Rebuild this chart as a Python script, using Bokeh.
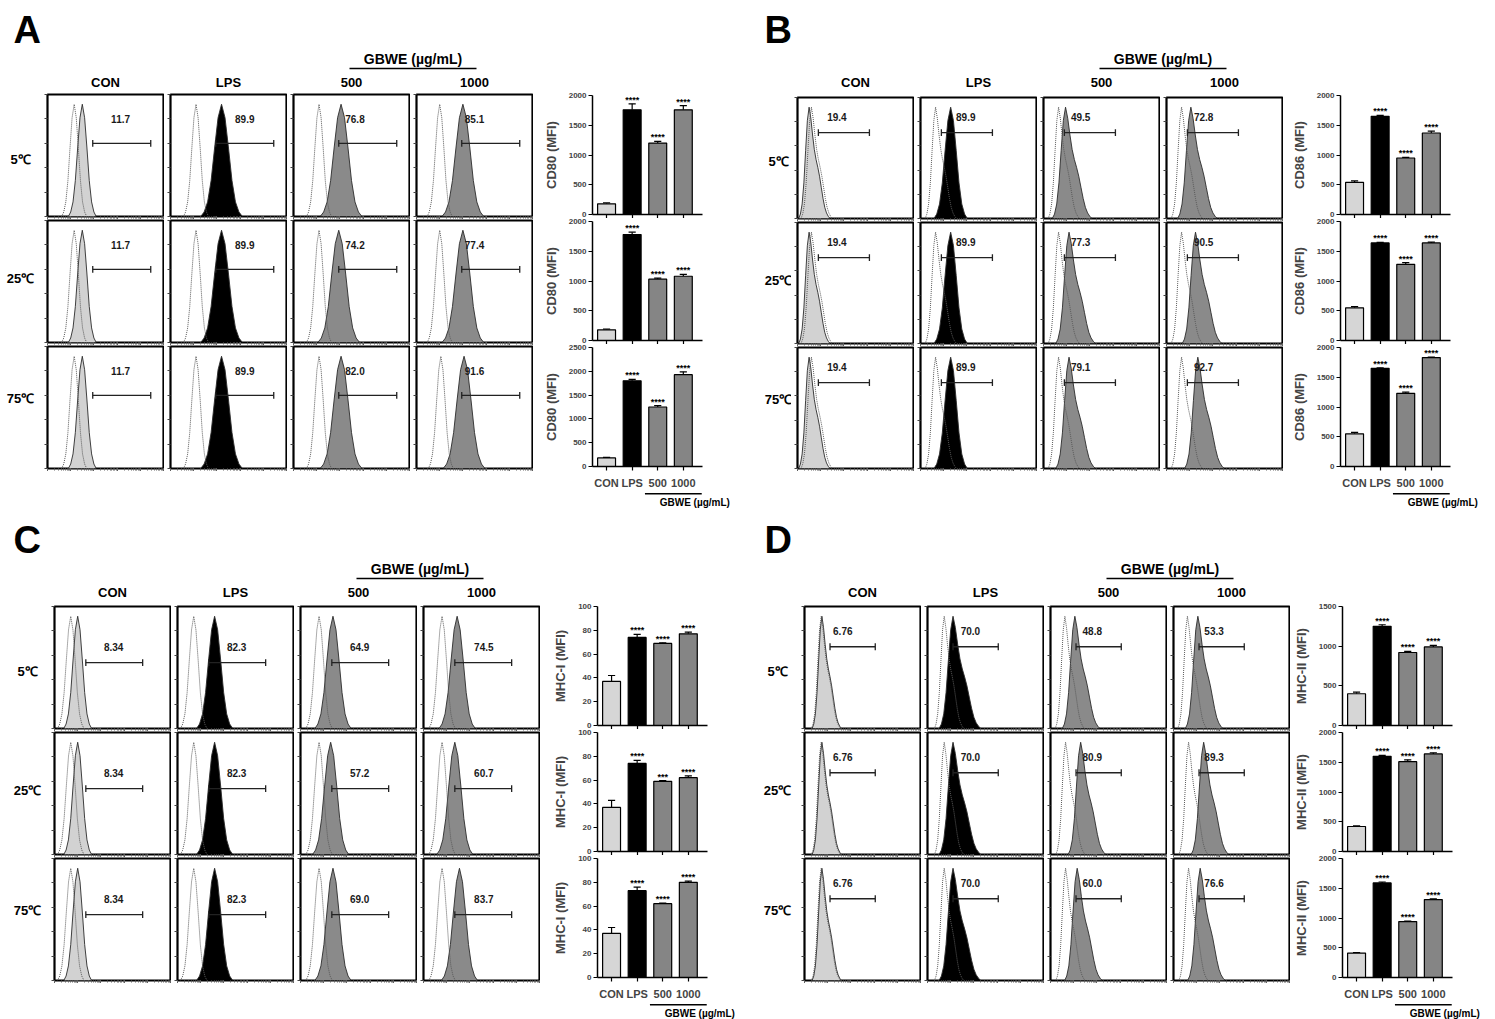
import numpy as np
from bokeh.plotting import figure
from bokeh.layouts import row, column
from bokeh.models import Range1d, FixedTicker, LogTicker, Spacer, ColumnDataSource
from bokeh.core.properties import value
from bokeh.embed import file_html
from bokeh.resources import INLINE

FONT = value("Liberation Sans")

# ------------------------------------------------------------------ data
groups = ["CON", "LPS", "500", "1000"]
temps = ["5℃", "25℃", "75℃"]
gbwe_label = "GBWE (µg/mL)"
bar_colors = ["#d6d6d6", "#000000", "#858585", "#858585"]
fill_colors = ["#d2d2d2", "#000000", "#8a8a8a", "#8a8a8a"]

# histogram template shapes: relative height every 0.5 sigma, starting at -3 sigma
shape_sym = [0.0, 0.04, 0.13, 0.32, 0.61, 0.88, 1.0, 0.88, 0.61, 0.32, 0.13, 0.04, 0.0]
shape_skew = [0.0, 0.04, 0.13, 0.32, 0.61, 0.88, 1.0, 0.9, 0.75, 0.62, 0.53, 0.46,
              0.38, 0.28, 0.18, 0.1, 0.05, 0.02, 0.0]

# ---- Panel A : CD80
A_pct = [["11.7", "89.9", "76.8", "85.1"],
         ["11.7", "89.9", "74.2", "77.4"],
         ["11.7", "89.9", "82.0", "91.6"]]
A_ctrl_peak = [[1.15, 1.1, 1.1, 1.0], [1.15, 1.1, 1.1, 1.0], [1.15, 1.1, 1.1, 1.05]]
A_fill_peak = [[1.5, 2.2, 2.05, 2.0], [1.5, 2.2, 1.95, 2.0], [1.5, 2.2, 2.05, 2.05]]
A_ctrl_sigma = 0.18
A_fill_sigma = [0.2, 0.3, 0.3, 0.3]
A_ctrl_shape = "sym"
A_fill_shape = ["sym", "sym", "sym", "sym"]
A_gate = [1.95, 4.45, 0.60]
A_label_x = [3.15, 3.2, 2.65, 2.5]
A_label_y = 0.80
A_mfi = [[180, 1760, 1200, 1760], [180, 1780, 1030, 1080], [180, 1800, 1250, 1930]]
A_err = [[15, 100, 30, 70], [10, 40, 20, 30], [12, 30, 30, 60]]
A_stars = [["", "****", "****", "****"], ["", "****", "****", "****"], ["", "****", "****", "****"]]
A_ymax = [2000, 2000, 2500]
A_ystep = 500
A_ylabel = "CD80 (MFI)"

# ---- Panel B : CD86
B_pct = [["19.4", "89.9", "49.5", "72.8"],
         ["19.4", "89.9", "77.3", "90.5"],
         ["19.4", "89.9", "79.1", "92.7"]]
B_ctrl_peak = [[0.6, 0.65, 0.65, 0.65], [0.6, 0.65, 0.65, 0.65], [0.6, 0.65, 0.65, 0.65]]
B_fill_peak = [[0.5, 1.3, 0.95, 1.05], [0.5, 1.3, 1.1, 1.25], [0.5, 1.3, 1.1, 1.35]]
B_ctrl_sigma = 0.15
B_fill_sigma = [0.15, 0.24, 0.19, 0.19]
B_ctrl_shape = "skew"
B_fill_shape = ["skew", "sym", "skew", "skew"]
B_gate = [0.9, 3.1, 0.71]
B_label_x = [1.7, 1.95, 1.6, 1.6]
B_label_y = 0.84
B_mfi = [[540, 1650, 950, 1370], [550, 1640, 1280, 1640], [550, 1650, 1230, 1830]]
B_err = [[25, 15, 10, 30], [20, 10, 30, 15], [25, 10, 20, 10]]
B_stars = [["", "****", "****", "****"], ["", "****", "****", "****"], ["", "****", "****", "****"]]
B_ymax = [2000, 2000, 2000]
B_ystep = 500
B_ylabel = "CD86 (MFI)"

# ---- Panel C : MHC-I
C_pct = [["8.34", "82.3", "64.9", "74.5"],
         ["8.34", "82.3", "57.2", "60.7"],
         ["8.34", "82.3", "69.0", "83.7"]]
C_ctrl_peak = [[0.7, 0.7, 0.8, 0.8], [0.7, 0.7, 0.8, 0.8], [0.7, 0.7, 0.8, 0.8]]
C_fill_peak = [[1.0, 1.6, 1.4, 1.45], [1.0, 1.6, 1.3, 1.35], [1.0, 1.6, 1.4, 1.55]]
C_ctrl_sigma = 0.19
C_fill_sigma = [0.2, 0.26, 0.26, 0.26]
C_ctrl_shape = "sym"
C_fill_shape = ["sym", "sym", "sym", "sym"]
C_gate = [1.35, 3.8, 0.54]
C_label_x = [2.55, 2.55, 2.55, 2.6]
C_label_y = 0.67
C_mfi = [[37, 74, 69, 77], [37, 74, 59, 62], [37, 73, 62, 80]]
C_err = [[5, 2.5, 0.5, 1.5], [6, 2.5, 0.5, 1.5], [5, 3, 0.5, 1]]
C_stars = [["", "****", "****", "****"], ["", "****", "***", "****"], ["", "****", "****", "****"]]
C_ymax = [100, 100, 100]
C_ystep = 20
C_ylabel = "MHC-I (MFI)"

# ---- Panel D : MHC-II
D_pct = [["6.76", "70.0", "48.8", "53.3"],
         ["6.76", "70.0", "80.9", "89.3"],
         ["6.76", "70.0", "60.0", "76.6"]]
D_ctrl_peak = [[0.72, 0.72, 0.62, 0.6], [0.72, 0.72, 0.65, 0.65], [0.72, 0.72, 0.65, 0.65]]
D_fill_peak = [[0.75, 1.1, 1.05, 1.05], [0.75, 1.1, 1.3, 1.3], [0.75, 1.1, 1.15, 1.15]]
D_ctrl_sigma = 0.14
D_fill_sigma = [0.14, 0.2, 0.18, 0.18]
D_ctrl_shape = "skew"
D_fill_shape = ["skew", "skew", "skew", "skew"]
D_gate = [1.1, 3.05, 0.67]
D_label_x = [1.65, 1.85, 1.8, 1.75]
D_label_y = 0.80
D_mfi = [[400, 1250, 920, 990], [420, 1600, 1510, 1640], [410, 1590, 940, 1310]]
D_err = [[20, 20, 15, 20], [10, 15, 30, 20], [10, 15, 10, 10]]
D_stars = [["", "****", "****", "****"], ["", "****", "****", "****"], ["", "****", "****", "****"]]
D_ymax = [1500, 2000, 2000]
D_ystep = 500
D_ylabel = "MHC-II (MFI)"

SHAPES = {"sym": shape_sym, "skew": shape_skew}

# ------------------------------------------------------------------ layout constants
HIST_W = 116
HIST_PITCH_W = 123
PEAK_H = 0.92
BAR_FW = 110
XR0, XR1 = -0.55, 3.75
PPU = BAR_FW / (XR1 - XR0)


def base_style(p):
    p.background_fill_color = "white"
    p.border_fill_color = "white"
    p.grid.visible = False


def hide_labels(ax):
    ax.major_label_text_font_size = "1px"
    ax.major_label_text_alpha = 0
    ax.major_label_standoff = 0


def text_fig(w, h):
    p = figure(width=w, height=h, x_range=Range1d(0, w), y_range=Range1d(h, 0),
               x_axis_location=None, y_axis_location=None, min_border=0,
               output_backend="svg", toolbar_location=None)
    base_style(p)
    p.outline_line_color = None
    return p


def curve(peak, sigma, shape):
    s = np.array(SHAPES[shape])
    offs = np.arange(len(s)) * 0.5 - 3.0
    return 10 ** (peak + offs * sigma), s * PEAK_H


def hist_fig(fh, cpk, csg, cshape, fpk, fsg, fshape, fcolor, pct, gate, lx, ly):
    p = figure(frame_width=HIST_W, frame_height=fh, x_axis_type="log",
               x_range=Range1d(1, 1e5), y_range=Range1d(0, 1),
               min_border_left=6, min_border_right=1, min_border_top=1, min_border_bottom=3,
               output_backend="svg", toolbar_location=None)
    base_style(p)
    p.outline_line_color = "black"
    p.outline_line_width = 2.2
    for ax in (p.xaxis[0], p.yaxis[0]):
        hide_labels(ax)
        ax.axis_line_color = None
        ax.major_tick_in = 0
        ax.major_tick_out = 3
        ax.minor_tick_in = 0
        ax.minor_tick_out = 2
        ax.major_tick_line_color = "#444444"
        ax.minor_tick_line_color = "#666666"
    p.yaxis.ticker = FixedTicker(ticks=[0, 0.2, 0.4, 0.6, 0.8, 1.0])
    p.xaxis.ticker = LogTicker(num_minor_ticks=10)

    xs, ys = curve(fpk, fsg, fshape)
    p.varea(x=xs, y1=0, y2=ys, fill_color=fcolor)
    p.line(xs, ys, line_color="#2b2b2b", line_width=0.9)
    xc, yc = curve(cpk, csg, cshape)
    p.line(xc, yc, line_color="#5a5a5a", line_width=1.0, line_dash="1 1")

    g0, g1, gy = gate
    p.segment(x0=[10 ** g0, 10 ** g0, 10 ** g1], y0=[gy, gy - 0.028, gy - 0.028],
              x1=[10 ** g1, 10 ** g0, 10 ** g1], y1=[gy, gy + 0.028, gy + 0.028],
              line_color="#222222", line_width=1.3)
    p.text(x=[10 ** lx], y=[ly], text=[pct], text_font=FONT, text_font_style="bold",
           text_font_size="10px", text_align="center", text_baseline="middle", text_color="#1a1a1a")
    return p


def bar_fig(L, R, bottom, vals, errs, stars, ymax, ystep, ylabel):
    p = figure(frame_width=BAR_FW, frame_height=119, x_range=Range1d(XR0, XR1),
               y_range=Range1d(0, ymax), min_border_left=L, min_border_right=R,
               min_border_top=3, min_border_bottom=26 if bottom else 4,
               output_backend="svg", toolbar_location=None)
    base_style(p)
    p.outline_line_color = None
    xs = list(range(len(groups)))
    hi = [v + e for v, e in zip(vals, errs)]
    src = ColumnDataSource(dict(x=xs, top=vals, hi=hi, color=bar_colors, stars=stars,
                                cl=[x - 0.14 for x in xs], cr=[x + 0.14 for x in xs]))
    p.segment(x0="x", y0="top", x1="x", y1="hi", source=src, line_color="black", line_width=1.2)
    p.segment(x0="cl", y0="hi", x1="cr", y1="hi", source=src, line_color="black", line_width=1.2)
    p.vbar(x="x", top="top", width=0.7, fill_color="color", line_color="black",
           line_width=1.2, source=src)
    p.text(x="x", y="hi", text="stars", source=src, y_offset=1, text_font=FONT,
           text_font_style="bold", text_font_size="9px", text_align="center",
           text_baseline="bottom", text_color="black")

    ya = p.yaxis[0]
    ya.ticker = FixedTicker(ticks=list(range(0, ymax + 1, ystep)))
    ya.axis_label = ylabel
    ya.axis_label_text_font = "Liberation Sans"
    ya.axis_label_text_font_style = "bold"
    ya.axis_label_text_font_size = "13px"
    ya.axis_label_standoff = 7
    ya.major_label_text_font = "Liberation Sans"
    ya.major_label_text_font_style = "bold"
    ya.major_label_text_font_size = "8px"
    ya.major_label_standoff = 2

    xa = p.xaxis[0]
    xa.ticker = FixedTicker(ticks=xs)
    if bottom:
        xa.major_label_overrides = {i: g for i, g in enumerate(groups)}
        xa.major_label_text_font = "Liberation Sans"
        xa.major_label_text_font_style = "bold"
        xa.major_label_text_font_size = "11px"
        xa.major_label_standoff = 6
    else:
        hide_labels(xa)
    for ax in (xa, ya):
        ax.axis_line_width = 1.5
        ax.axis_line_color = "black"
        ax.major_tick_line_width = 1.2
        ax.major_tick_in = 0
        ax.major_tick_out = 4
        ax.minor_tick_line_color = None
    return p


def footer_fig(L, R, h):
    fw = BAR_FW + R
    p = figure(frame_width=fw, frame_height=h, x_range=Range1d(XR0, XR0 + fw / PPU),
               y_range=Range1d(h, 0), min_border_left=L, min_border_right=0,
               min_border_top=0, min_border_bottom=0, x_axis_location=None,
               y_axis_location=None, output_backend="svg", toolbar_location=None)
    base_style(p)
    p.outline_line_color = None
    p.segment(x0=[1.5], y0=[1.2], x1=[3.72], y1=[1.2], line_color="black", line_width=1.5)
    p.text(x=[3.45], y=[9.5], text=[gbwe_label], text_font=FONT, text_font_style="bold",
           text_font_size="10px", text_align="center", text_baseline="middle")
    return p


def block(letter, d, lay):
    label_w = lay["label_w"]
    grid_w = label_w + 4 * HIST_PITCH_W
    hh = lay["header_h"]
    fh = lay["hist_fh"]
    pitch = fh + 4

    header = text_fig(grid_w, hh)
    header.text(x=[lay["letter_x"]], y=[29], text=[letter], text_font=FONT, text_font_style="bold",
                text_font_size="38px", text_align="left", text_baseline="middle")
    centers = [label_w + 6 + HIST_W / 2 + i * HIST_PITCH_W for i in range(4)]
    header.text(x=centers, y=[82] * 4, text=groups, text_font=FONT, text_font_style="bold",
                text_font_size="13px", text_align="center", text_baseline="middle")
    header.text(x=[(centers[2] + centers[3]) / 2], y=[58], text=[gbwe_label], text_font=FONT,
                text_font_style="bold", text_font_size="14px", text_align="center",
                text_baseline="middle")
    header.segment(x0=[centers[2] - 2], y0=[68], x1=[centers[3] + 2], y1=[68],
                   line_color="black", line_width=1.6)

    labels = text_fig(label_w, 3 * pitch)
    labels.text(x=[lay["row_x"]] * 3, y=[f * pitch for f in (0.52, 1.47, 2.42)], text=temps,
                text_font=FONT, text_font_style="bold", text_font_size="13px",
                text_align="center", text_baseline="middle")

    rows = []
    for i in range(3):
        figs = []
        for j in range(4):
            figs.append(hist_fig(fh, d["ctrl_peak"][i][j], d["ctrl_sigma"], d["ctrl_shape"],
                                 d["fill_peak"][i][j], d["fill_sigma"][j], d["fill_shape"][j],
                                 fill_colors[j], d["pct"][i][j], d["gate"],
                                 d["label_x"][j], d["label_y"]))
        rows.append(row(*figs))
    left = column(header, row(labels, column(*rows)))

    L, R = lay["L"], lay["R"]
    bars = [Spacer(width=L + BAR_FW + R, height=lay["bar_top"])]
    for i in range(3):
        bars.append(bar_fig(L, R, i == 2, d["mfi"][i], d["err"][i], d["stars"][i],
                            d["ymax"][i], d["ystep"], d["ylabel"]))
    bars.append(footer_fig(L, R, lay["footer_h"]))
    return row(left, column(*bars))


def pack(pfx):
    g = globals()
    keys = ["pct", "ctrl_peak", "fill_peak", "ctrl_sigma", "fill_sigma", "ctrl_shape",
            "fill_shape", "gate", "label_x", "label_y", "mfi", "err", "stars", "ymax",
            "ystep", "ylabel"]
    return {k: g[pfx + "_" + k] for k in keys}


lay_A = dict(label_w=41, header_h=93, hist_fh=122, L=59, R=58, bar_top=92, footer_h=18,
             letter_x=13, row_x=20)
lay_B = dict(label_w=31, header_h=96, hist_fh=121, L=57, R=45, bar_top=92, footer_h=18,
             letter_x=4, row_x=18)
lay_C = dict(label_w=48, header_h=95, hist_fh=122, L=57, R=53, bar_top=93, footer_h=16,
             letter_x=13, row_x=27)
lay_D = dict(label_w=38, header_h=95, hist_fh=122, L=52, R=43, bar_top=93, footer_h=16,
             letter_x=4, row_x=17)

page = column(row(block("A", pack("A"), lay_A), block("B", pack("B"), lay_B)),
              row(block("C", pack("C"), lay_C), block("D", pack("D"), lay_D)))

open("out.html", "w").write(file_html(page, INLINE))
